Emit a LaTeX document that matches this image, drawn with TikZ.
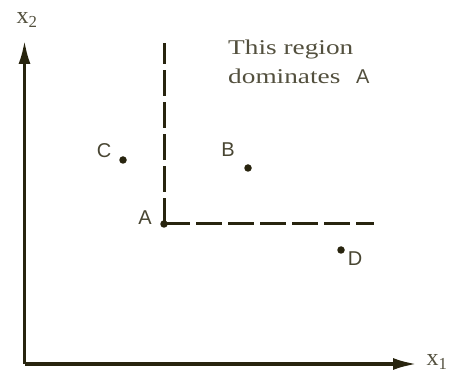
\documentclass[tikz,border=0pt]{standalone}
\usepackage{fontspec}
\setmainfont{Liberation Serif}
\newfontfamily\lblfont{Liberation Sans}
\usetikzlibrary{arrows.meta}
\definecolor{ink}{RGB}{40,36,14}
\begin{document}
\begin{tikzpicture}[x=1pt,y=-1pt,
  axis/.style={ink,line width=3.4pt,-{Latex[length=24pt,width=12pt]}},
  dashline/.style={ink,line width=3pt,dash pattern=on 26pt off 6pt},
  dotpt/.style={circle,fill=ink,inner sep=0pt,minimum size=7.5pt},
  lbl/.style={font=\lblfont\fontsize{20}{20}\selectfont,text=ink!85,inner sep=0pt},
  axlbl/.style={font=\fontsize{24}{24}\selectfont,text=ink!80,inner sep=0pt},
  regtxt/.style={font=\fontsize{21}{29}\selectfont,text=ink!80,inner sep=0pt,align=left,anchor=north west}]
\useasboundingbox (0,0) rectangle (450,374);
\coordinate (O) at (24.5,364);
\coordinate (Ytop) at (24.5,40);
\coordinate (Xend) at (417,364);
\draw[axis] (O) -- (Ytop);
\draw[axis] (O) -- (Xend);
\node[axlbl] (x2) at (27,20) {x\textsubscript{2}};
\node[axlbl] (x1) at (437,362) {x\textsubscript{1}};
\node[dotpt] (A) at (164,224) {};
\coordinate (Vtop) at (164,43);
\coordinate (Hend) at (374,224);
\draw[dashline] (A.center) -- (Vtop);
\draw[dashline] (A.center) -- (Hend);
\node[dotpt] (B) at (248,168) {};
\node[dotpt] (C) at (123,160) {};
\node[dotpt] (D) at (341,250) {};
\node[lbl] (Al) at (145,218) {A};
\node[lbl] (Bl) at (228,150) {B};
\node[lbl] (Cl) at (104,151) {C};
\node[lbl] (Dl) at (355,259) {D};
\node[regtxt] (reg) at (228,40) {\scalebox{1.3}[1]{This region}\\\scalebox{1.3}[1]{dominates}\ \ \ {\lblfont\fontsize{20}{20}\selectfont A}};
\end{tikzpicture}
\end{document}
